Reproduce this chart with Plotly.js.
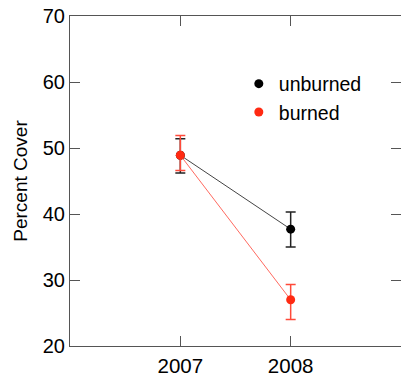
<!DOCTYPE html>
<html>
<head>
<meta charset="utf-8">
<script src="https://cdn.plot.ly/plotly-3.0.1.min.js"></script>
<style>html,body{margin:0;padding:0;background:#fff;}#chart{width:401px;height:377px;}</style>
</head>
<body>
<div id="chart"></div>
<script>
var years = [2007, 2008];
var unburnedMean = [48.9, 37.7];
var unburnedErrPlus = [2.5, 2.6];
var unburnedErrMinus = [2.7, 2.7];
var burnedMean = [48.9, 27.0];
var burnedErrPlus = [3.0, 2.3];
var burnedErrMinus = [2.3, 3.0];
var seriesNames = ['unburned', 'burned'];
var yTicks = [20, 30, 40, 50, 60, 70];

var font = 'Liberation Sans, Arial, Helvetica, sans-serif';

var traces = [
  {x: years, y: unburnedMean, mode: 'lines', line: {color: '#444444', width: 1}, showlegend: false, hoverinfo: 'skip'},
  {x: years, y: burnedMean, mode: 'lines', line: {color: '#ff6a60', width: 1}, showlegend: false, hoverinfo: 'skip'},
  {x: years, y: unburnedMean, mode: 'markers', name: seriesNames[0],
   marker: {color: '#000000', size: 9},
   error_y: {type: 'data', symmetric: false, array: unburnedErrPlus, arrayminus: unburnedErrMinus, color: '#222222', thickness: 1.5, width: 5}},
  {x: years, y: burnedMean, mode: 'markers', name: seriesNames[1],
   marker: {color: '#ff2a12', size: 9},
   error_y: {type: 'data', symmetric: false, array: burnedErrPlus, arrayminus: burnedErrMinus, color: '#ff4a3a', thickness: 1.5, width: 5}}
];

var layout = {
  width: 401, height: 377,
  margin: {l: 70, r: 0, t: 16, b: 31},
  paper_bgcolor: '#ffffff', plot_bgcolor: '#ffffff',
  font: {family: font, color: '#000000'},
  showlegend: true,
  legend: {x: 0.51, y: 0.853, xanchor: 'left', yanchor: 'top', bgcolor: 'rgba(0,0,0,0)',
           font: {family: font, size: 19.5, color: '#000'}, tracegroupgap: 0},
  xaxis: {
    range: [2006, 2009], tickvals: years, ticktext: years.map(String),
    showgrid: false, zeroline: false, showline: true, linecolor: '#555555', linewidth: 1,
    mirror: 'ticks', ticks: 'inside', ticklen: 10, tickcolor: '#555555',
    ticklabelstandoff: 1,
    tickfont: {family: font, size: 20.5, color: '#000'}
  },
  yaxis: {
    range: [20, 70], tickvals: yTicks,
    showgrid: false, zeroline: false, showline: true, linecolor: '#555555', linewidth: 1,
    mirror: 'ticks', ticks: 'inside', ticklen: 10, tickcolor: '#555555',
    tickfont: {family: font, size: 20, color: '#000'},
    title: {text: 'Percent Cover', font: {family: font, size: 19, color: '#000'}, standoff: 10}
  }
};

Plotly.newPlot('chart', traces, layout, {displayModeBar: false, staticPlot: true});
</script>
</body>
</html>
